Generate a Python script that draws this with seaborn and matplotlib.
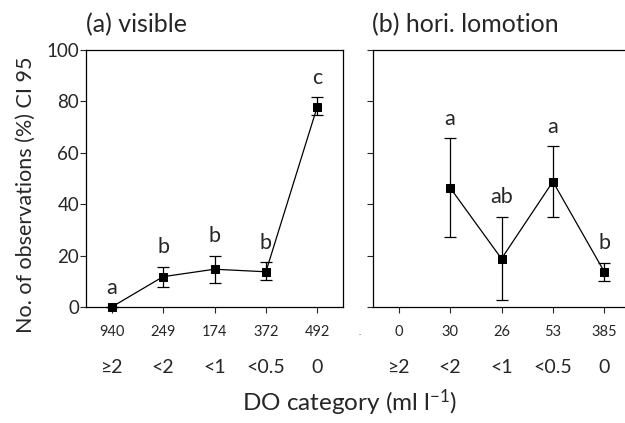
import numpy as np
import pandas as pd
import matplotlib
matplotlib.use("Agg")
import matplotlib.pyplot as plt
import matplotlib.transforms as mtransforms
import seaborn as sns

# ---- data ----
categories = ["\u22652", "<2", "<1", "<0.5", "0"]
counts_a = ["940", "249", "174", "372", "492"]
counts_b = ["0", "30", "26", "53", "385"]

mean_a = [0.0, 11.8, 14.7, 13.7, 78.0]
low_a = [0.0, 7.7, 9.3, 10.5, 74.7]
high_a = [0.0, 15.7, 20.0, 17.4, 81.6]
letters_a = ["a", "b", "b", "b", "c"]

mean_b = [np.nan, 46.4, 18.8, 48.8, 13.7]
low_b = [np.nan, 27.4, 2.7, 34.9, 10.2]
high_b = [np.nan, 65.6, 35.1, 62.6, 17.2]
letters_b = ["", "a", "ab", "a", "b"]

titles = ["(a) visible", "(b) hori. lomotion"]
ylabel = "No. of observations (%) CI 95"
xlabel = r"DO category (ml l$^{-1}$)"

sns.set_style("ticks")
plt.rcParams["font.family"] = ["Lato", "DejaVu Sans"]
plt.rcParams["mathtext.fontset"] = "custom"
plt.rcParams["mathtext.rm"] = "Lato"
plt.rcParams["mathtext.default"] = "regular"

W, H = 625, 423
fig = plt.figure(figsize=(W / 100, H / 100), dpi=100)

ax_w = 257 / W
ax_h = 257 / H
bottom = (H - 307) / H
axA = fig.add_axes([86 / W, bottom, ax_w, ax_h])
axB = fig.add_axes([373 / W, bottom, ax_w, ax_h])

panels = [
    (axA, mean_a, low_a, high_a, letters_a, counts_a),
    (axB, mean_b, low_b, high_b, letters_b, counts_b),
]

for i, (ax, m, lo, hi, lets, cnts) in enumerate(panels):
    df = pd.DataFrame({"x": np.arange(5), "y": m, "lo": lo, "hi": hi}).dropna()
    sns.lineplot(data=df, x="x", y="y", ax=ax, color="black", lw=0.9,
                 marker="s", markersize=5.5, markeredgecolor="black",
                 markerfacecolor="black", clip_on=False, zorder=3)
    err = np.vstack([df["y"] - df["lo"], df["hi"] - df["y"]])
    ax.errorbar(df["x"], df["y"], yerr=err, fmt="none", ecolor="black",
                elinewidth=0.9, capsize=4, capthick=0.9, clip_on=False, zorder=2)
    for xi, (lab, top) in enumerate(zip(lets, hi)):
        if lab:
            ax.annotate(lab, (xi, top), xytext=(0, 14), textcoords="offset points",
                        ha="center", va="center", fontsize=15.5)
    ax.set_xlim(-0.5, 4.5)
    ax.set_ylim(0, 100)
    ax.set_yticks([0, 20, 40, 60, 80, 100])
    ax.set_xticks(np.arange(5))
    ax.set_xticklabels(cnts, fontsize=10.5)
    ax.tick_params(axis="x", length=4, width=0.8, pad=9, direction="out")
    ax.tick_params(axis="y", length=4, width=0.8, pad=1, labelsize=13.5)
    ax.set_xlabel("")
    ax.set_ylabel("")
    for s in ax.spines.values():
        s.set_visible(True)
        s.set_linewidth(0.9)
        s.set_color("black")
    trans = mtransforms.blended_transform_factory(ax.transData, ax.transAxes)
    for xi, c in enumerate(categories):
        ax.text(xi, -60 / 257, c, transform=trans, ha="center", va="center",
                fontsize=14)
    if i == 1:
        ax.set_yticklabels([])
    fig.text((86 if i == 0 else 372) / W, 1 - 25 / H, titles[i],
             ha="left", va="center", fontsize=18)

fig.text(360 / W, 1 - 332 / H, "..", ha="center", va="center", fontsize=5,
         color="grey")
fig.text(26 / W, 1 - 195 / H, ylabel, rotation=90, ha="center", va="center",
         fontsize=15.5)
fig.text(350 / W, 1 - 403 / H, xlabel, ha="center", va="center", fontsize=17.5)

fig.savefig("out.png", dpi=100)
